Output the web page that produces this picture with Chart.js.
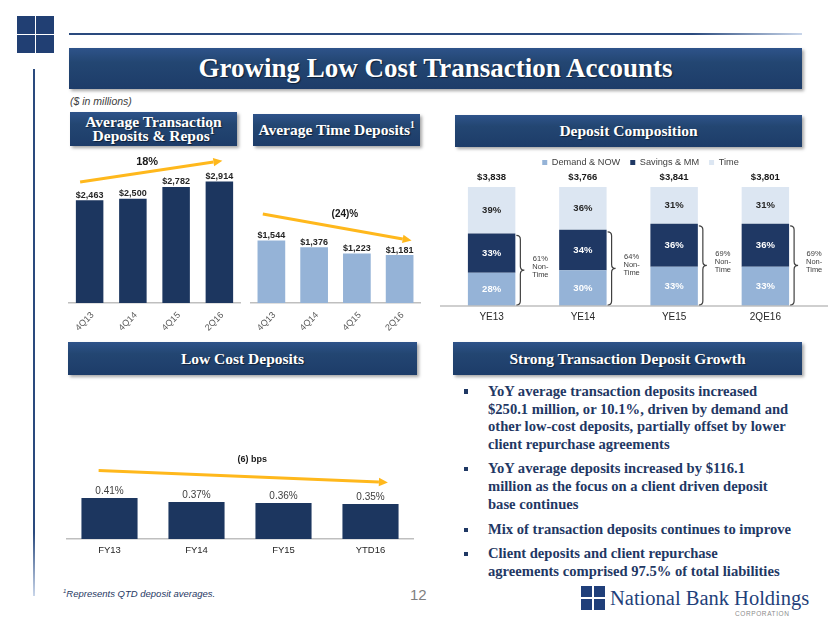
<!DOCTYPE html>
<html>
<head>
<meta charset="utf-8">
<script src="https://cdn.jsdelivr.net/npm/chart.js@4/dist/chart.umd.min.js"></script>
<style>
html,body{margin:0;padding:0;background:#fff;}
body{width:830px;height:623px;position:relative;overflow:hidden;font-family:"Liberation Sans",Arial,sans-serif;}
.sq{position:absolute;background:#213f73;}
.banner{position:absolute;background:linear-gradient(#2e538a 0%,#234672 35%,#1d3c69 100%);box-shadow:2px 2px 3px rgba(0,0,0,.35);color:#fff;font-family:"Liberation Serif","Times New Roman",serif;font-weight:bold;text-align:center;display:flex;align-items:center;justify-content:center;text-shadow:1px 1px 1px rgba(0,0,0,.5);}
.banner sup{font-size:60%;line-height:0;vertical-align:0.75em;}
.cv{position:absolute;}
.bul{position:absolute;left:488px;font-family:"Liberation Serif","Times New Roman",serif;font-weight:bold;font-size:14.6px;line-height:17.8px;color:#1f3864;white-space:nowrap;}
.bul::before{content:"";position:absolute;left:-24.5px;top:6.5px;width:4.5px;height:4.5px;background:#1f3864;}
</style>
</head>
<body>
<!-- top-left logo squares -->
<div class="sq" style="left:17px;top:16px;width:17.5px;height:17.5px"></div>
<div class="sq" style="left:36px;top:16px;width:17.5px;height:17.5px"></div>
<div class="sq" style="left:17px;top:35px;width:17.5px;height:17.5px"></div>
<div class="sq" style="left:36px;top:35px;width:17.5px;height:17.5px"></div>
<!-- rules -->
<div style="position:absolute;left:69px;top:33px;width:733px;height:2px;background:linear-gradient(to right,#2a4a7e 0%,#2a4a7e 85%,#c9d6ea 100%)"></div>
<div style="position:absolute;left:33px;top:69px;width:2px;height:527px;background:linear-gradient(#2a4a7e 0%,#2a4a7e 88%,#c9d6ea 100%)"></div>

<div class="banner" style="left:69px;top:48px;width:733px;height:41px;font-size:27px;"><span>Growing Low Cost Transaction Accounts</span></div>
<div style="position:absolute;left:70px;top:95px;font-size:10.5px;font-style:italic;color:#404040;">($ in millions)</div>

<div class="banner" style="left:70px;top:112px;width:167px;height:34px;font-size:15.5px;line-height:14.5px;"><span>Average Transaction<br>Deposits &amp; Repos<sup>1</sup></span></div>
<div class="banner" style="left:253px;top:114px;width:167px;height:32px;font-size:15.5px;"><span>Average Time Deposits<sup>1</sup></span></div>
<div class="banner" style="left:455px;top:115px;width:347px;height:32px;font-size:15.5px;"><span>Deposit Composition</span></div>
<div class="banner" style="left:68px;top:342px;width:349px;height:33px;font-size:15.5px;"><span>Low Cost Deposits</span></div>
<div class="banner" style="left:453px;top:342px;width:349px;height:33px;font-size:15.5px;"><span>Strong Transaction Deposit Growth</span></div>

<canvas id="c1" class="cv" width="173" height="200" style="left:68px;top:140px"></canvas>
<canvas id="c2" class="cv" width="171" height="200" style="left:250px;top:140px"></canvas>
<canvas id="c3" class="cv" width="392" height="180" style="left:438px;top:148px"></canvas>
<canvas id="c4" class="cv" width="348" height="126" style="left:66px;top:439px"></canvas>

<div class="bul" style="top:382.8px">YoY average transaction deposits increased<br>$250.1 million, or 10.1%, driven by demand and<br>other low-cost deposits, partially offset by lower<br>client repurchase agreements</div>
<div class="bul" style="top:460.4px">YoY average deposits increased by $116.1<br>million as the focus on a client driven deposit<br>base continues</div>
<div class="bul" style="top:521.1px">Mix of transaction deposits continues to improve</div>
<div class="bul" style="top:545.4px">Client deposits and client repurchase<br>agreements comprised 97.5% of total liabilities</div>

<div style="position:absolute;left:63px;top:588px;font-size:9.5px;font-style:italic;color:#1f3864;"><sup style="font-size:6px">1</sup>Represents QTD deposit averages.</div>
<div style="position:absolute;left:410px;top:586px;font-size:15px;color:#7f7f7f;">12</div>

<!-- bottom logo -->
<div class="sq" style="left:581px;top:586px;width:11.3px;height:11px;background:#203f7a"></div>
<div class="sq" style="left:593.7px;top:586px;width:11.3px;height:11px;background:#203f7a"></div>
<div class="sq" style="left:581px;top:598.5px;width:11.3px;height:11px;background:#203f7a"></div>
<div class="sq" style="left:593.7px;top:598.5px;width:11.3px;height:11px;background:#203f7a"></div>
<div style="position:absolute;left:610px;top:587.8px;font-family:'Liberation Serif','Times New Roman',serif;font-size:20.5px;line-height:20.5px;color:#1f3f7a;white-space:nowrap;">National Bank Holdings</div>
<div style="position:absolute;left:735px;top:609.5px;font-size:6.5px;letter-spacing:0.6px;color:#8c8c8c;">CORPORATION</div>

<script>
// ---------- data ----------
const txCategories = ['4Q13', '4Q14', '4Q15', '2Q16'];
const txValues = [2463, 2500, 2782, 2914];
const txLabels = ['$2,463', '$2,500', '$2,782', '$2,914'];
const txTrendLabel = '18%';

const timeCategories = ['4Q13', '4Q14', '4Q15', '2Q16'];
const timeValues = [1544, 1376, 1223, 1181];
const timeLabels = ['$1,544', '$1,376', '$1,223', '$1,181'];
const timeTrendLabel = '(24)%';

const compCategories = ['YE13', 'YE14', 'YE15', '2QE16'];
const compSeriesNames = ['Demand & NOW', 'Savings & MM', 'Time'];
const compDemand = [28, 30, 33, 33];
const compSavings = [33, 34, 36, 36];
const compTime = [39, 36, 31, 31];
const compTotals = ['$3,838', '$3,766', '$3,841', '$3,801'];
const compNonTime = ['61%', '64%', '69%', '69%'];
const compNonTimeNote = ['Non-', 'Time'];

const costCategories = ['FY13', 'FY14', 'FY15', 'YTD16'];
const costValues = [0.41, 0.37, 0.36, 0.35];
const costTrendLabel = '(6) bps';

// ---------- helpers ----------
const FONT = "'Liberation Sans', Arial, sans-serif";
const ARROW = '#FFB81C';

function drawArrow(ctx, x1, y1, x2, y2) {
  const ang = Math.atan2(y2 - y1, x2 - x1);
  const hl = 9, hw = 4.2;
  const bx = x2 - hl * Math.cos(ang), by = y2 - hl * Math.sin(ang);
  ctx.save();
  ctx.strokeStyle = ARROW; ctx.fillStyle = ARROW; ctx.lineWidth = 3;
  ctx.beginPath(); ctx.moveTo(x1, y1); ctx.lineTo(bx, by); ctx.stroke();
  ctx.beginPath(); ctx.moveTo(x2, y2);
  ctx.lineTo(bx + hw * Math.sin(ang), by - hw * Math.cos(ang));
  ctx.lineTo(bx - hw * Math.sin(ang), by + hw * Math.cos(ang));
  ctx.closePath(); ctx.fill();
  ctx.restore();
}

function drawBrace(ctx, x, yTop, yBot, w) {
  const ym = (yTop + yBot) / 2, h = w / 2;
  ctx.beginPath();
  ctx.moveTo(x, yTop);
  ctx.quadraticCurveTo(x + h, yTop, x + h, yTop + h);
  ctx.lineTo(x + h, ym - h);
  ctx.quadraticCurveTo(x + h, ym, x + w, ym);
  ctx.quadraticCurveTo(x + h, ym, x + h, ym + h);
  ctx.lineTo(x + h, yBot - h);
  ctx.quadraticCurveTo(x + h, yBot, x, yBot);
  ctx.stroke();
}

function fixedAxis(h) {
  return function (scale) { scale.height = h; scale.paddingLeft = 0; scale.paddingRight = 0; };
}

function simpleBar(id, cats, vals, cfg) {
  return new Chart(document.getElementById(id), {
    type: 'bar',
    data: { labels: cats, datasets: [{ data: vals, backgroundColor: cfg.color, barPercentage: cfg.barPct, categoryPercentage: 1 }] },
    options: {
      responsive: false, animation: false, devicePixelRatio: 1,
      layout: { padding: { top: cfg.padTop, left: 0, right: 0, bottom: 0 } },
      plugins: { legend: { display: false }, tooltip: { enabled: false } },
      scales: {
        x: {
          grid: { display: false, drawTicks: false },
          border: { display: true, color: '#BFBFBF', width: 1.5 },
          ticks: cfg.ticks,
          afterFit: fixedAxis(cfg.axisH)
        },
        y: { display: false, min: 0, max: cfg.yMax }
      }
    },
    plugins: [{
      id: 'annot',
      afterDatasetsDraw(chart) {
        const ctx = chart.ctx, xs = chart.scales.x, ys = chart.scales.y;
        const meta = chart.getDatasetMeta(0);
        ctx.save();
        ctx.textAlign = 'center'; ctx.textBaseline = 'middle';
        ctx.font = cfg.labelFont; ctx.fillStyle = cfg.labelColor;
        meta.data.forEach((bar, i) => ctx.fillText(cfg.labels[i], bar.x, bar.y - cfg.labelGap));
        const t = cfg.trend;
        drawArrow(ctx, xs.getPixelForValue(t.from[0]), ys.getPixelForValue(t.from[1]),
                       xs.getPixelForValue(t.to[0]), ys.getPixelForValue(t.to[1]));
        ctx.font = t.font; ctx.fillStyle = '#1a1a1a';
        ctx.fillText(t.text, xs.getPixelForValue(t.at[0]), ys.getPixelForValue(t.at[1]));
        ctx.restore();
      }
    }]
  });
}

const rotTicks = { color: '#595959', font: { family: FONT, size: 9 }, minRotation: 45, maxRotation: 45, padding: 7, labelOffset: 3, autoSkip: false };

// Chart 1: Average Transaction Deposits & Repos
simpleBar('c1', txCategories, txValues, {
  color: '#1C365F', barPct: 0.636, padTop: 17, axisH: 37, yMax: 3500, ticks: rotTicks,
  labels: txLabels, labelFont: `bold 9px ${FONT}`, labelColor: '#262626', labelGap: 5,
  trend: { from: [-0.22, 2900], to: [3.07, 3410], at: [1.33, 3385], text: txTrendLabel, font: `bold 11px ${FONT}` }
});

// Chart 2: Average Time Deposits
simpleBar('c2', timeCategories, timeValues, {
  color: '#95B3D7', barPct: 0.648, padTop: 17, axisH: 37, yMax: 3600, ticks: rotTicks,
  labels: timeLabels, labelFont: `bold 9px ${FONT}`, labelColor: '#262626', labelGap: 5,
  trend: { from: [-0.2, 2195], to: [3.28, 1540], at: [1.72, 2180], text: timeTrendLabel, font: `bold 10px ${FONT}` }
});

// Chart 4: Low Cost Deposits
simpleBar('c4', costCategories, costValues, {
  color: '#1C365F', barPct: 0.645, padTop: 0, axisH: 26, yMax: 1.0,
  ticks: { color: '#262626', font: { family: FONT, size: 9.5 }, padding: 6, maxRotation: 0, autoSkip: false },
  labels: costValues.map(v => v.toFixed(2) + '%'), labelFont: `10px ${FONT}`, labelColor: '#404040', labelGap: 6.6,
  trend: { from: [-0.125, 0.686], to: [3.2, 0.566], at: [1.64, 0.793], text: costTrendLabel, font: `bold 9px ${FONT}` }
});

// Chart 3: Deposit Composition (stacked)
new Chart(document.getElementById('c3'), {
  type: 'bar',
  data: {
    labels: compCategories,
    datasets: [
      { label: compSeriesNames[0], data: compDemand, backgroundColor: '#95B3D7', stack: 's', barPercentage: 0.52, categoryPercentage: 1 },
      { label: compSeriesNames[1], data: compSavings, backgroundColor: '#1F3864', stack: 's', barPercentage: 0.52, categoryPercentage: 1 },
      { label: compSeriesNames[2], data: compTime, backgroundColor: '#DCE6F2', stack: 's', barPercentage: 0.52, categoryPercentage: 1 }
    ]
  },
  options: {
    responsive: false, animation: false, devicePixelRatio: 1,
    layout: { padding: { top: 0, left: 8, right: 19, bottom: 0 } },
    plugins: {
      tooltip: { enabled: false },
      legend: { display: true, position: 'top', align: 'center',
        labels: { boxWidth: 5, boxHeight: 5, padding: 10, color: '#404040', font: { family: FONT, size: 9.2 } } }
    },
    scales: {
      x: { stacked: true, grid: { display: false, drawTicks: false }, border: { display: false },
           ticks: { color: '#262626', font: { family: FONT, size: 10 }, padding: 5, maxRotation: 0, autoSkip: false },
           afterFit: fixedAxis(22) },
      y: { stacked: true, display: false, min: 0, max: 108.2 }
    }
  },
  plugins: [
    { id: 'legendShift', afterLayout(chart) { chart.legend.left += 12; chart.legend.right += 12; } },
    { id: 'compAnnot', afterDatasetsDraw(chart) {
        const ctx = chart.ctx;
        const m0 = chart.getDatasetMeta(0), m1 = chart.getDatasetMeta(1), m2 = chart.getDatasetMeta(2);
        const segLabels = [[m0, compDemand, '#ffffff'], [m1, compSavings, '#ffffff'], [m2, compTime, '#262626']];
        ctx.save();
        // axis line
        ctx.strokeStyle = '#BFBFBF'; ctx.lineWidth = 1.5;
        ctx.beginPath(); ctx.moveTo(2, chart.chartArea.bottom); ctx.lineTo(chart.width - 2, chart.chartArea.bottom); ctx.stroke();
        ctx.textAlign = 'center'; ctx.textBaseline = 'middle';
        m0.data.forEach((b, i) => {
          ctx.font = `bold 9.5px ${FONT}`;
          segLabels.forEach(([m, vals, col]) => {
            const e = m.data[i];
            ctx.fillStyle = col;
            ctx.fillText(vals[i] + '%', e.x, (e.y + e.base) / 2);
          });
          ctx.fillStyle = '#1a1a1a';
          ctx.fillText(compTotals[i], b.x, m2.data[i].y - 10);
          const right = b.x + b.width / 2;
          const top = m1.data[i].y + 2, bot = b.base - 1;
          ctx.strokeStyle = '#404040'; ctx.lineWidth = 1.2;
          drawBrace(ctx, right + 1, top, bot, 8);
          ctx.font = `7.5px ${FONT}`; ctx.fillStyle = '#404040';
          const cx = right + 25, cy = (top + bot) / 2 - 3.3;
          ctx.fillText(compNonTime[i], cx, cy - 8.3);
          ctx.fillText(compNonTimeNote[0], cx, cy);
          ctx.fillText(compNonTimeNote[1], cx, cy + 8.3);
        });
        ctx.restore();
      } }
  ]
});
</script>
</body>
</html>
